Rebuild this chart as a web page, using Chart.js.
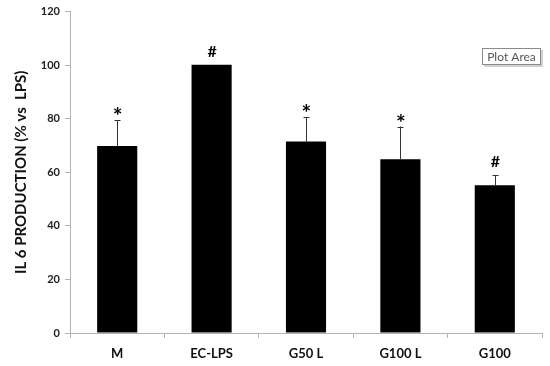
<!DOCTYPE html>
<html><head><meta charset="utf-8">
<script src="https://cdn.jsdelivr.net/npm/chart.js@4.4.0/dist/chart.umd.min.js"></script>
<style>html,body{margin:0;padding:0;background:#fff}#wrap{width:550px;height:366px}</style>
</head><body><div id="wrap"><canvas id="c" width="550" height="366"></canvas></div>
<script>
const categories = ["M", "EC-LPS", "G50 L", "G100 L", "G100"];
const values = [69.8, 100.2, 71.5, 64.9, 55.2];
const errors = [9.6, 0, 9.0, 12.2, 3.8];
const marks = ["*", "#", "*", "*", "#"];
const yTicks = [0, 20, 40, 60, 80, 100, 120];
const FONT = "Lato, 'Open Sans', sans-serif";

const extras = {
  id: 'extras',
  afterDatasetsDraw(chart) {
    const ctx = chart.ctx;
    const meta = chart.getDatasetMeta(0);
    const y = chart.scales.y;
    ctx.save();
    meta.data.forEach((bar, i) => {
      const x = bar.x;
      const top = y.getPixelForValue(values[i]);
      let markBase = top;
      if (errors[i] > 0) {
        const et = y.getPixelForValue(values[i] + errors[i]);
        ctx.strokeStyle = '#333';
        ctx.lineWidth = 1;
        ctx.beginPath();
        ctx.moveTo(Math.round(x) + 0.5, top);
        ctx.lineTo(Math.round(x) + 0.5, et);
        ctx.moveTo(Math.round(x) - 2.5, Math.round(et) + 0.5);
        ctx.lineTo(Math.round(x) + 3.5, Math.round(et) + 0.5);
        ctx.stroke();
        markBase = et;
      }
      ctx.fillStyle = '#000';
      ctx.textAlign = 'center';
      ctx.textBaseline = 'alphabetic';
      if (marks[i] === '*') {
        ctx.font = "bold 23px " + FONT;
        ctx.fillText('*', x + 0.5, markBase + 4);
      } else {
        ctx.font = "bold 16px " + FONT;
        ctx.fillText('#', x + 0.5, markBase - 8);
      }
    });
    // "Plot Area" label box
    const bx = 482, by = 48, bw = 59, bh = 17;
    ctx.fillStyle = '#d0d0d0';
    ctx.fillRect(bx + 2, by + 2, bw, bh);
    ctx.fillStyle = '#fff';
    ctx.fillRect(bx, by, bw, bh);
    ctx.strokeStyle = '#8a8a8a';
    ctx.lineWidth = 1;
    ctx.strokeRect(bx + 0.5, by + 0.5, bw - 1, bh - 1);
    ctx.fillStyle = '#555';
    ctx.font = "12px " + FONT;
    ctx.textAlign = 'center';
    ctx.textBaseline = 'middle';
    ctx.fillText('Plot Area', bx + bw / 2, by + bh / 2 + 0.5);
    ctx.restore();
  }
};

new Chart(document.getElementById('c'), {
  type: 'bar',
  data: {
    labels: categories,
    datasets: [{
      data: values,
      backgroundColor: '#000',
      borderWidth: 0,
      categoryPercentage: 1,
      barPercentage: 0.425
    }]
  },
  options: {
    responsive: false,
    animation: false,
    events: [],
    layout: { padding: { top: 10, right: 8, left: 0, bottom: 0 } },
    plugins: { legend: { display: false }, tooltip: { enabled: false } },
    scales: {
      y: {
        min: 0, max: 120,
        afterBuildTicks(s) { s.ticks = yTicks.map(v => ({ value: v })); },
        afterFit(s) { s.width = 70; },
        border: { color: '#b3b3b3', width: 1 },
        grid: { drawOnChartArea: false, drawTicks: true, tickLength: 5, color: '#b3b3b3' },
        ticks: { color: '#222', padding: 5, font: { family: FONT, size: 11, weight: 'bold' } },
        title: { display: true, text: 'IL 6 PRODUCTION (% vs  LPS)', color: '#111',
                 font: { family: FONT, size: 15, weight: 'bold' }, padding: { top: 12, bottom: 0 } }
      },
      x: {
        afterFit(s) { s.height = 33; },
        border: { color: '#b3b3b3', width: 1 },
        grid: { drawOnChartArea: false, drawTicks: true, tickLength: 5, color: '#b3b3b3', offset: true },
        ticks: { color: '#111', padding: 8, font: { family: FONT, size: 13, weight: 'bold' } }
      }
    }
  },
  plugins: [extras]
});
</script></body></html>
